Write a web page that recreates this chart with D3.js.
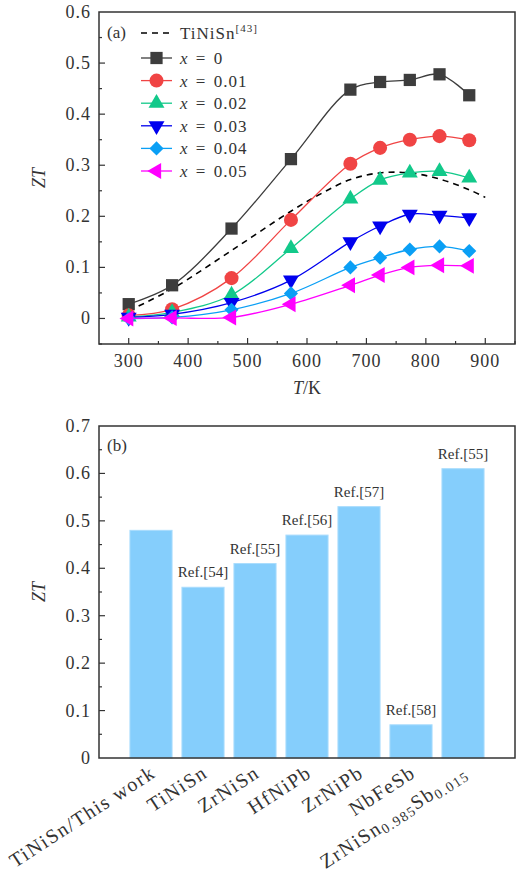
<!DOCTYPE html>
<html>
<head>
<meta charset="utf-8">
<script src="https://cdn.jsdelivr.net/npm/d3@7"></script>
<style>
  body { margin: 0; background: #fff; }
  svg text { font-family: "Liberation Serif", "Times New Roman", Tinos, "DejaVu Serif", "Noto Serif", serif; fill: #333; }
</style>
</head>
<body>
<svg id="chart" width="517" height="873"></svg>
<script>
// panel (a): ZT vs T
const temps = [300, 373, 473, 573, 673, 723, 773, 823, 873];
const zt0 = [0.028, 0.065, 0.176, 0.312, 0.448, 0.463, 0.467, 0.478, 0.437];
const zt01 = [0.006, 0.018, 0.079, 0.193, 0.303, 0.334, 0.350, 0.357, 0.349];
const zt02 = [0.003, 0.012, 0.046, 0.137, 0.234, 0.271, 0.285, 0.288, 0.275];
const zt03 = [0.002, 0.008, 0.031, 0.075, 0.150, 0.181, 0.204, 0.202, 0.197];
const zt04 = [0.000, 0.002, 0.017, 0.049, 0.100, 0.119, 0.135, 0.141, 0.132];
const zt05 = [0.000, 0.001, 0.002, 0.028, 0.065, 0.085, 0.100, 0.104, 0.103];
const refT = [300, 373, 473, 573, 623, 673, 723, 773, 823, 873, 900];
const refZT = [0.015, 0.058, 0.133, 0.210, 0.244, 0.272, 0.285, 0.285, 0.273, 0.252, 0.237];
const seriesNames = ["x = 0", "x = 0.01", "x = 0.02", "x = 0.03", "x = 0.04", "x = 0.05"];
const seriesColors = ["#3d3d3d", "#f04444", "#12c98a", "#0000ee", "#0a9ff5", "#ff00ff"];
const xTicksA = [300, 400, 500, 600, 700, 800, 900];
const yTicksA = [0, 0.1, 0.2, 0.3, 0.4, 0.5, 0.6];

// panel (b): bars
const materials = ["TiNiSn/This work", "TiNiSn", "ZrNiSn", "HfNiPb", "ZrNiPb", "NbFeSb", "ZrNiSn0.985Sb0.015"];
const barZT = [0.48, 0.36, 0.41, 0.47, 0.53, 0.07, 0.61];
const refs = ["", "Ref.[54]", "Ref.[55]", "Ref.[56]", "Ref.[57]", "Ref.[58]", "Ref.[55]"];
const yTicksB = [0, 0.1, 0.2, 0.3, 0.4, 0.5, 0.6, 0.7];

const svg = d3.select("#chart");
const L = 99, R = 515;
const axisColor = "#333";
const tickFont = 18;

function fmt(d) { return d === 0 ? "0" : d3.format(".1f")(d); }

// ---------- panel a ----------
const x = d3.scaleLinear().domain([250, 950]).range([L, R]);
const y = d3.scaleLinear().domain([-0.05, 0.6]).range([344, 12]);
const ga = svg.append("g");

ga.append("rect").attr("x", L).attr("y", 12).attr("width", R - L).attr("height", 332)
  .attr("fill", "none").attr("stroke", axisColor).attr("stroke-width", 1.5);

// ticks inward
d3.range(300, 951, 50).forEach(t => {
  const major = t % 100 === 0;
  ga.append("line").attr("x1", x(t)).attr("x2", x(t)).attr("y1", 344).attr("y2", 344 - (major ? 6 : 3))
    .attr("stroke", axisColor).attr("stroke-width", 1.2);
});
d3.range(-0.05, 0.6, 0.05).forEach(v => {
  const major = Math.abs(Math.round(v * 10) - v * 10) < 1e-6;
  ga.append("line").attr("x1", L).attr("x2", L + (major ? 6 : 3)).attr("y1", y(v)).attr("y2", y(v))
    .attr("stroke", axisColor).attr("stroke-width", 1.2);
});
ga.selectAll(".xt").data(xTicksA).join("text")
  .attr("x", d => x(d)).attr("y", 367).attr("text-anchor", "middle").attr("font-size", tickFont)
  .attr("letter-spacing", 1).text(d => d);
ga.selectAll(".yt").data(yTicksA).join("text")
  .attr("x", 91).attr("y", d => y(d) + 6).attr("text-anchor", "end").attr("font-size", tickFont)
  .attr("letter-spacing", 1).text(fmt);

const xl = ga.append("text").attr("x", 307).attr("y", 394).attr("text-anchor", "middle").attr("font-size", 18);
xl.append("tspan").attr("font-style", "italic").text("T");
xl.append("tspan").text("/K");
ga.append("text").attr("transform", "translate(45,178) rotate(-90)").attr("text-anchor", "middle")
  .attr("font-size", 18).attr("font-style", "italic").text("ZT");

const line = d3.line().x(d => x(d[0])).y(d => y(d[1])).curve(d3.curveCatmullRom.alpha(0.5));

ga.append("path").datum(refT.map((t, i) => [t, refZT[i]])).attr("d", line)
  .attr("fill", "none").attr("stroke", "#000").attr("stroke-width", 1.6).attr("stroke-dasharray", "6,5");

const symbols = [
  { type: d3.symbolSquare, size: 150, rot: 0 },
  { type: d3.symbolCircle, size: 155, rot: 0 },
  { type: d3.symbolTriangle, size: 110, rot: 0 },
  { type: d3.symbolTriangle, size: 110, rot: 180 },
  { type: d3.symbolSquare, size: 100, rot: 45 },
  { type: d3.symbolTriangle, size: 110, rot: -90 }
];
const allSeries = [zt0, zt01, zt02, zt03, zt04, zt05];

allSeries.forEach((vals, k) => {
  const pts = temps.map((t, i) => [t, vals[i]]);
  ga.append("path").datum(pts).attr("d", line).attr("fill", "none")
    .attr("stroke", seriesColors[k]).attr("stroke-width", 1.3);
  const sym = d3.symbol().type(symbols[k].type).size(symbols[k].size);
  ga.selectAll(null).data(pts).join("path")
    .attr("d", sym)
    .attr("transform", d => `translate(${x(d[0])},${y(d[1])}) rotate(${symbols[k].rot})`)
    .attr("fill", seriesColors[k]);
});

// legend
ga.append("text").attr("x", 107).attr("y", 38).attr("font-size", 17).text("(a)");
const lx0 = 141, lx1 = 172, tx = 180;
ga.append("line").attr("x1", lx0).attr("x2", lx1).attr("y1", 33).attr("y2", 33)
  .attr("stroke", "#000").attr("stroke-width", 1.6).attr("stroke-dasharray", "6,5");
const lt = ga.append("text").attr("x", tx).attr("y", 39).attr("font-size", 17).attr("letter-spacing", 1);
lt.append("tspan").text("TiNiSn");
lt.append("tspan").attr("font-size", 11).attr("dy", -7).text("[43]");
seriesNames.forEach((name, k) => {
  const ly = 58 + 22.6 * k;
  ga.append("line").attr("x1", lx0).attr("x2", lx1).attr("y1", ly).attr("y2", ly)
    .attr("stroke", seriesColors[k]).attr("stroke-width", 1.3);
  ga.append("path").attr("d", d3.symbol().type(symbols[k].type).size(symbols[k].size)())
    .attr("transform", `translate(${(lx0 + lx1) / 2},${ly}) rotate(${symbols[k].rot})`)
    .attr("fill", seriesColors[k]);
  const t = ga.append("text").attr("x", tx).attr("y", ly + 6).attr("font-size", 17).attr("letter-spacing", 1);
  t.append("tspan").attr("font-style", "italic").text("x");
  t.append("tspan").attr("dx", 2).text(" =");
  t.append("tspan").attr("dx", 2).text(name.slice(3));
});

// ---------- panel b ----------
const xb = d3.scaleBand().domain(materials).range([L, R]).paddingInner(0.19).paddingOuter(0.595);
const yb = d3.scaleLinear().domain([0, 0.7]).range([758, 426]);
const gb = svg.append("g");

gb.selectAll(".bar").data(materials).join("rect")
  .attr("x", d => xb(d)).attr("width", xb.bandwidth())
  .attr("y", (d, i) => yb(barZT[i])).attr("height", (d, i) => yb(0) - yb(barZT[i]))
  .attr("fill", "#85cefc").attr("stroke", "#a9dcfd").attr("stroke-width", 1);

gb.selectAll(".ref").data(materials).join("text")
  .attr("x", d => xb(d) + xb.bandwidth() / 2).attr("y", (d, i) => yb(barZT[i]) - 10)
  .attr("text-anchor", "middle").attr("font-size", 15).text((d, i) => refs[i]);

gb.append("rect").attr("x", L).attr("y", 426).attr("width", R - L).attr("height", 332)
  .attr("fill", "none").attr("stroke", axisColor).attr("stroke-width", 1.5);

d3.range(0.05, 0.7, 0.05).forEach(v => {
  const major = Math.abs(Math.round(v * 10) - v * 10) < 1e-6;
  gb.append("line").attr("x1", L).attr("x2", L + (major ? 6 : 3)).attr("y1", yb(v)).attr("y2", yb(v))
    .attr("stroke", axisColor).attr("stroke-width", 1.2);
});
gb.selectAll(".yt").data(yTicksB).join("text")
  .attr("x", 91).attr("y", d => yb(d) + 6).attr("text-anchor", "end").attr("font-size", tickFont)
  .attr("letter-spacing", 1).text(fmt);
gb.append("text").attr("x", 107).attr("y", 451).attr("font-size", 17).text("(b)");
gb.append("text").attr("transform", "translate(45,592) rotate(-90)").attr("text-anchor", "middle")
  .attr("font-size", 18).attr("font-style", "italic").text("ZT");

materials.forEach(m => {
  const cx = xb(m) + xb.bandwidth() / 2;
  const t = gb.append("text").attr("text-anchor", "end").attr("font-size", 20).attr("letter-spacing", 1.5)
    .attr("transform", `translate(${cx + 6},${776}) rotate(-33)`);
  const parts = m.match(/^(ZrNiSn)(0\.985)(Sb)(0\.015)$/);
  if (parts) {
    t.append("tspan").text(parts[1]);
    t.append("tspan").attr("font-size", 14).attr("dy", 3).text(parts[2]);
    t.append("tspan").attr("dy", -3).text(parts[3]);
    t.append("tspan").attr("font-size", 14).attr("dy", 3).text(parts[4]);
  } else {
    t.text(m);
  }
});
</script>
</body>
</html>
